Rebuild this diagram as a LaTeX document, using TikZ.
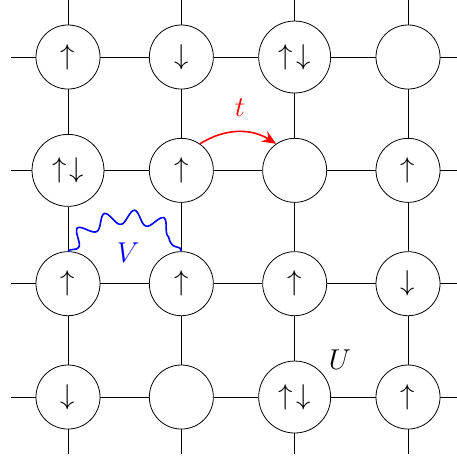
\documentclass[tikz,border=0pt]{standalone}
\usetikzlibrary{decorations.pathmorphing,arrows.meta}
\begin{document}
\begin{tikzpicture}[
  site/.style={circle,draw,fill=white,minimum size=1.13cm,inner sep=0pt,font=\Large},
  dsite/.style={site,minimum size=1.27cm},
  bond/.style={draw,line width=0.4pt},
  hop/.style={red,thick,-{Stealth[length=7pt,width=6pt]}},
  wave/.style={blue,thick,decorate,decoration={snake,mirror,amplitude=3.5pt,segment length=14pt}},
  lab/.style={font=\Large}]
\useasboundingbox (-1.2,-7.076) rectangle (6.847,1.006);
% row 0
\node[site]  (n00) at (0,0) {$\uparrow$};
\node[site]  (n10) at (2,0) {$\downarrow$};
\node[dsite] (n20) at (4,0) {$\uparrow\mkern2mu\downarrow$};
\node[site]  (n30) at (6,0) {};
% row 1
\node[dsite] (n01) at (0,-2) {$\uparrow\mkern2mu\downarrow$};
\node[site]  (n11) at (2,-2) {$\uparrow$};
\node[site]  (n21) at (4,-2) {};
\node[site]  (n31) at (6,-2) {$\uparrow$};
% row 2
\node[site]  (n02) at (0,-4) {$\uparrow$};
\node[site]  (n12) at (2,-4) {$\uparrow$};
\node[site]  (n22) at (4,-4) {$\uparrow$};
\node[site]  (n32) at (6,-4) {$\downarrow$};
% row 3
\node[site]  (n03) at (0,-6) {$\downarrow$};
\node[site]  (n13) at (2,-6) {};
\node[dsite] (n23) at (4,-6) {$\uparrow\mkern2mu\downarrow$};
\node[site]  (n33) at (6,-6) {$\uparrow$};
% edge coordinates
\foreach \i in {0,...,3} {
  \coordinate (t\i) at (2*\i,1);
  \coordinate (b\i) at (2*\i,-7);
  \coordinate (l\i) at (-1,-2*\i);
  \coordinate (r\i) at (7,-2*\i);
}
% bonds
\foreach \i in {0,...,3} {
  \foreach \j [evaluate=\j as \jn using int(\j+1)] in {0,1,2} {
    \path[bond] (n\i\j) -- (n\i\jn);
    \path[bond] (n\j\i) -- (n\jn\i);
  }
  \path[bond] (t\i) -- (n\i0);
  \path[bond] (n\i3) -- (b\i);
  \path[bond] (l\i) -- (n0\i);
  \path[bond] (n3\i) -- (r\i);
}
% hopping
\draw[hop] (n11.55) to[bend left=32] (n21.125);
\node[lab,red] (t) at (3.035,-0.9) {$t$};
% interaction V
\draw[wave] (n02.north) to[bend left=58] (n12.north);
\node[lab,blue] (V) at (1.06,-3.46) {$V$};
% U
\node[lab] (U) at (4.8,-5.35) {$U$};
\end{tikzpicture}
\end{document}
